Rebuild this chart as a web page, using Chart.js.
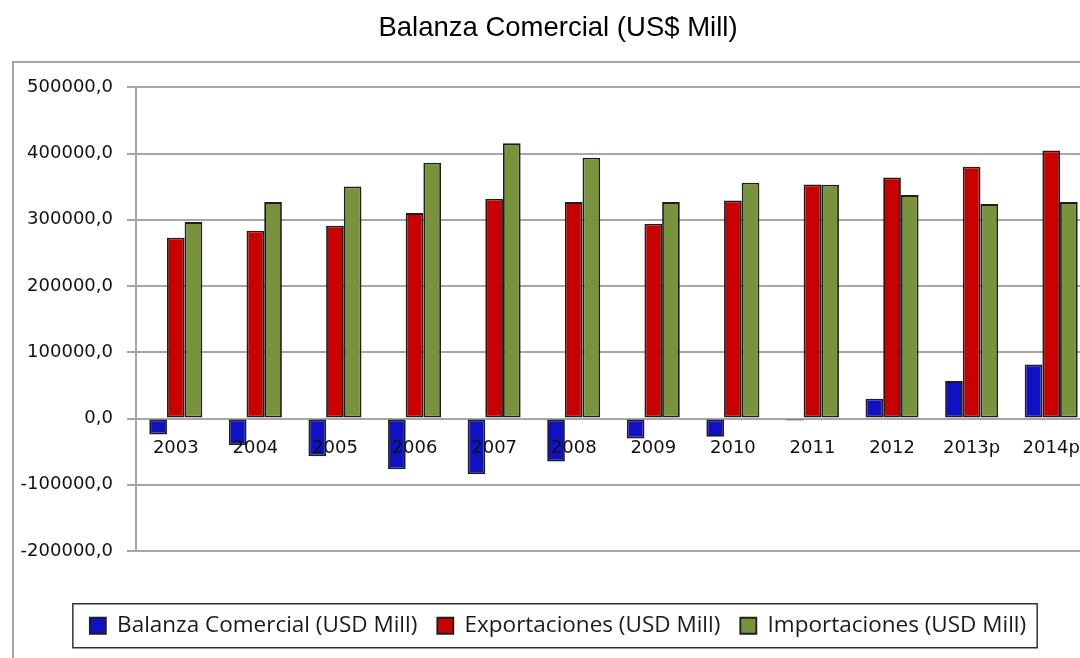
<!DOCTYPE html>
<html><head><meta charset="utf-8">
<script src="https://cdn.jsdelivr.net/npm/chart.js@4.4.1/dist/chart.umd.min.js"></script>
<style>html,body{margin:0;padding:0;overflow:hidden;background:#fff;width:1080px;height:658px}canvas{display:block}</style>
</head><body>
<canvas id="c" width="1116" height="658"></canvas>
<script>
const chartTitle = 'Balanza Comercial (US$ Mill)';
const categories = ['2003','2004','2005','2006','2007','2008','2009','2010','2011','2012','2013p','2014p'];
const seriesNames = ['Balanza Comercial (USD Mill)','Exportaciones (USD Mill)','Importaciones (USD Mill)'];
const balanza = [-24000,-40000,-57000,-76500,-84000,-65000,-30000,-27500,-3000,30000,56500,81500];
const exportaciones = [273000,283600,291100,310100,331800,326700,294100,329300,353400,363900,380100,404700];
const importaciones = [296500,326700,350400,386100,415700,393700,326700,356000,353000,337300,323700,326700];
const yTickValues = [-200000,-100000,0,100000,200000,300000,400000,500000];

const fmt = v => Number(v).toFixed(1).replace('.', ',');

const framePlugin = {
  id: 'frame',
  beforeDraw(chart) {
    const ctx = chart.ctx;
    ctx.save();
    ctx.fillStyle = '#fff';
    ctx.fillRect(0, 0, chart.width, chart.height);
    ctx.strokeStyle = '#a6a6a6';
    ctx.lineWidth = 2;
    ctx.strokeRect(13, 62, chart.width + 50, chart.height + 50);
    ctx.restore();
  }
};
const legendBoxPlugin = {
  id: 'legendBox',
  afterDraw(chart) {
    const hb = chart.legend && chart.legend.legendHitBoxes;
    if (!hb || !hb.length) return;
    const first = hb[0], last = hb[hb.length - 1];
    const cy = first.top + first.height / 2;
    const ctx = chart.ctx;
    ctx.save();
    ctx.strokeStyle = '#333';
    ctx.lineWidth = 1.5;
    ctx.strokeRect(first.left - 17, cy - 22, (last.left + last.width + 11) - (first.left - 17), 44);
    ctx.restore();
  }
};

const colors = ['#1111c4', '#c80000', '#77933c'];
const values = [balanza, exportaciones, importaciones];

new Chart(document.getElementById('c'), {
  type: 'bar',
  data: {
    labels: categories,
    datasets: values.map((d, i) => ({
      label: seriesNames[i],
      data: d,
      backgroundColor: colors[i],
      borderColor: '#1e1e1e',
      borderWidth: 1.8,
      borderSkipped: false,
      categoryPercentage: 0.666,
      barPercentage: 1.0
    }))
  },
  options: {
    responsive: false,
    animation: false,
    layout: { padding: { left: 0, right: 0, top: 0, bottom: 11 } },
    plugins: {
      title: {
        display: true,
        text: chartTitle,
        color: '#000',
        font: { family: 'Liberation Sans', size: 27.5, weight: 'normal' },
        padding: { top: 12, bottom: 42.3 }
      },
      legend: {
        position: 'bottom',
        labels: {
          font: { family: 'Open Sans', size: 22.5 },
          color: '#1a1a1a',
          boxWidth: 16,
          boxHeight: 16,
          padding: 20
        }
      },
      tooltip: { enabled: false }
    },
    scales: {
      x: {
        position: { y: 0 },
        grid: { display: false, drawTicks: false },
        border: { display: false },
        ticks: { z: 1, padding: 19, color: '#111', font: { family: 'DejaVu Sans', size: 18 }, maxRotation: 0, autoSkip: false }
      },
      gap: {
        type: 'category',
        axis: 'x',
        position: 'bottom',
        grid: { display: false },
        border: { display: false },
        ticks: { display: false },
        afterFit(s) { s.height = 43.5; }
      },
      y: {
        min: -200000,
        max: 500000,
        afterBuildTicks(s) { s.ticks = yTickValues.map(v => ({ value: v })); },
        afterFit(s) { s.width = 136; },
        ticks: { padding: 14, color: '#111', font: { family: 'DejaVu Sans', size: 18 }, callback: v => fmt(v) },
        grid: { color: '#a6a6a6', lineWidth: 2, tickLength: 9 },
        border: { color: '#a6a6a6', width: 2 }
      },
      rightGap: {
        type: 'linear',
        axis: 'y',
        position: 'right',
        grid: { display: false, drawOnChartArea: false },
        border: { display: false },
        ticks: { display: false },
        afterFit(s) { s.width = 25; }
      }
    }
  },
  plugins: [framePlugin, legendBoxPlugin]
});
</script>
</body></html>
